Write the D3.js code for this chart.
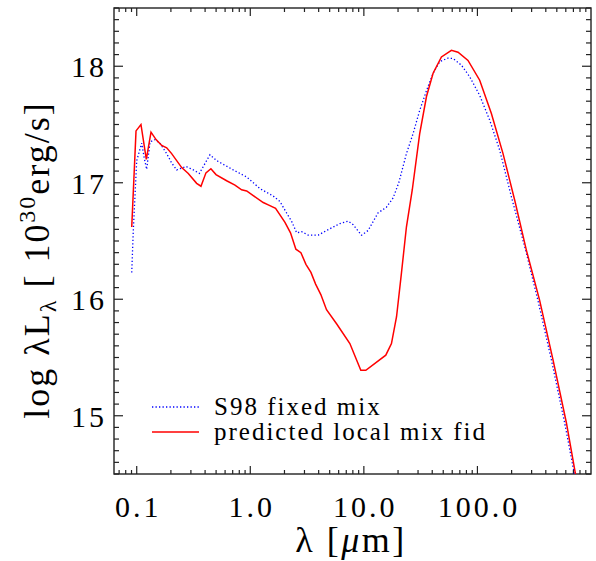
<!DOCTYPE html>
<html>
<head>
<meta charset="utf-8">
<script src="https://cdn.jsdelivr.net/npm/d3@7"></script>
<style>
html,body{margin:0;padding:0;background:#fff;}
svg{display:block;}
text{font-family:"Liberation Serif","Times New Roman",serif;fill:#000;}
</style>
</head>
<body>
<svg id="chart" width="596" height="561"></svg>
<script>
// ---- data ----
const s98Lambda = [0.0904,0.0933,0.100,0.1106,0.1166,0.1224,0.131,0.145,0.160,0.1836,0.203,0.225,0.2716,0.315,0.356,0.391,0.4416,0.506,0.708,0.929,1.216,1.59,1.82,2.09,2.31,2.56,2.83,3.24,3.96,4.69,6.15,7.28,8.05,9.53,10.9,13.3,15.8,18.1,20.3,23.7,27.1,31.0,35.6,40.7,46.6,55.1,61.0,72.2,85.5,104.7,128,157,199,266,341,448,586,708,820];
const s98LogL   = [16.23,16.59,17.19,17.34,17.21,17.115,17.35,17.37,17.34,17.25,17.17,17.11,17.14,17.11,17.08,17.15,17.24,17.19,17.11,17.05,16.95,16.886,16.84,16.74,16.67,16.57,16.58,16.55,16.55,16.59,16.65,16.67,16.64,16.55,16.59,16.74,16.79,16.87,17.0,17.25,17.42,17.62,17.79,17.94,18.04,18.07,18.066,18.01,17.91,17.75,17.54,17.28,16.88,16.42,15.99,15.48,14.94,14.52,14.15];
const fidLambda = [0.0904,0.0986,0.109,0.1215,0.1336,0.148,0.166,0.1836,0.203,0.249,0.2845,0.337,0.368,0.407,0.45,0.499,0.619,0.733,0.839,0.929,1.062,1.30,1.44,1.67,2.02,2.26,2.52,2.79,3.09,3.42,3.76,4.18,4.69,5.75,7.53,9.4,10.4,15.6,17.5,19.4,21.4,23.7,26.7,31.0,35.6,40.7,48.2,59.0,67.5,82.6,104.7,132.7,168,213,270,353,463,607,733,850];
const fidLogL   = [16.62,17.445,17.50,17.20,17.434,17.37,17.32,17.30,17.25,17.13,17.08,16.995,16.97,17.085,17.12,17.07,17.017,16.98,16.94,16.93,16.89,16.83,16.81,16.78,16.66,16.57,16.43,16.40,16.30,16.23,16.13,16.04,15.91,15.79,15.62,15.39,15.39,15.52,15.62,15.85,16.22,16.62,16.94,17.42,17.74,17.94,18.08,18.137,18.12,18.05,17.88,17.595,17.25,16.85,16.42,15.99,15.48,14.94,14.49,14.1];
const xTickValues = [0.1, 1, 10, 100];
const xTickLabels = ["0.1", "1.0", "10.0", "100.0"];
const yTickValues = [15, 16, 17, 18];
const yTickLabels = ["15", "16", "17", "18"];
const seriesNames = ["S98 fixed mix", "predicted local mix fid"];

// ---- layout ----
const L = 114, R = 591, T = 8, B = 474;
const svg = d3.select("#chart");
const x = d3.scaleLog().domain([Math.pow(10, -1.2), 1000]).range([L, R]);
const y = d3.scaleLinear().domain([14.5, 18.5]).range([B, T]);

svg.append("defs").append("clipPath").attr("id", "clip")
  .append("rect").attr("x", L).attr("y", T).attr("width", R - L).attr("height", B - T);

const xMinor = [];
for (let e = -2; e <= 3; e++) for (let m = 2; m <= 9; m++) {
  const v = m * Math.pow(10, e);
  if (v > x.domain()[0] && v < x.domain()[1]) xMinor.push(v);
}
const yMinor = d3.range(145, 186).map(d => d / 10).filter(v => Math.abs(v - Math.round(v)) > 1e-6);

const tickColor = "#222";
const majorLen = 9, minorLen = 5;
function addTicks(g, vals, len, orient) {
  vals.forEach(v => {
    if (orient === "bottom") g.append("line").attr("x1", x(v)).attr("x2", x(v)).attr("y1", B).attr("y2", B - len);
    if (orient === "top") g.append("line").attr("x1", x(v)).attr("x2", x(v)).attr("y1", T).attr("y2", T + len);
    if (orient === "left") g.append("line").attr("y1", y(v)).attr("y2", y(v)).attr("x1", L).attr("x2", L + len);
    if (orient === "right") g.append("line").attr("y1", y(v)).attr("y2", y(v)).attr("x1", R).attr("x2", R - len);
  });
}
const tg = svg.append("g").attr("stroke", tickColor).attr("stroke-width", 1.2);
addTicks(tg, xTickValues, majorLen - 1, "bottom");
addTicks(tg, xMinor, minorLen - 1, "bottom");
addTicks(tg, xTickValues, majorLen - 1, "top");
addTicks(tg, xMinor, minorLen - 1, "top");
addTicks(tg, yTickValues, majorLen, "left");
addTicks(tg, yMinor, minorLen, "left");
addTicks(tg, yTickValues, majorLen, "right");
addTicks(tg, yMinor, minorLen, "right");

svg.append("rect").attr("x", L).attr("y", T).attr("width", R - L).attr("height", B - T)
  .attr("fill", "none").attr("stroke", tickColor).attr("stroke-width", 1.4);

svg.append("g").selectAll("text").data(xTickValues).join("text")
  .attr("x", d => x(d) + 1.5).attr("y", 517)
  .attr("text-anchor", "middle").attr("font-size", 30).attr("letter-spacing", 3)
  .text((d, i) => xTickLabels[i]);
svg.append("g").selectAll("text").data(yTickValues).join("text")
  .attr("x", 107).attr("y", d => y(d) + 11)
  .attr("text-anchor", "end").attr("font-size", 30).attr("letter-spacing", 3)
  .text((d, i) => yTickLabels[i]);

const xt = svg.append("text").attr("x", 351).attr("y", 552).attr("text-anchor", "middle")
  .attr("font-size", 36).attr("letter-spacing", 2.5);
xt.append("tspan").text("λ  [");
xt.append("tspan").attr("font-style", "italic").text("μ");
xt.append("tspan").text("m]");

const yt = svg.append("text").attr("transform", "translate(49,260) rotate(-90)")
  .attr("text-anchor", "middle").attr("font-size", 36).attr("letter-spacing", 2);
yt.append("tspan").text("log  λL");
yt.append("tspan").attr("font-size", 24).attr("dy", 7).text("λ");
yt.append("tspan").attr("dy", -7).text(" [ 10");
yt.append("tspan").attr("font-size", 24).attr("dy", -14).text("30");
yt.append("tspan").attr("dy", 14).text("erg/s]");

const line = d3.line().x(d => x(d[0])).y(d => y(d[1]));
const plot = svg.append("g").attr("clip-path", "url(#clip)");
plot.append("path").datum(d3.zip(s98Lambda, s98LogL))
  .attr("d", line).attr("fill", "none").attr("stroke", "#0000ff")
  .attr("stroke-width", 1.3).attr("stroke-dasharray", "1.3,2.2");
plot.append("path").datum(d3.zip(fidLambda, fidLogL))
  .attr("d", line).attr("fill", "none").attr("stroke", "#ff0000")
  .attr("stroke-width", 1.5);

const legY = [407, 432];
const legStyles = [{c: "#0000ff", dash: "1.3,2.2", w: 1.3}, {c: "#ff0000", dash: null, w: 1.5}];
seriesNames.forEach((name, i) => {
  svg.append("line").attr("x1", 152).attr("x2", 199).attr("y1", legY[i]).attr("y2", legY[i])
    .attr("stroke", legStyles[i].c).attr("stroke-width", legStyles[i].w)
    .attr("stroke-dasharray", legStyles[i].dash);
  svg.append("text").attr("x", 214).attr("y", legY[i] + 7.5)
    .attr("font-size", 25).attr("letter-spacing", 2).text(name);
});
</script>
</body>
</html>
